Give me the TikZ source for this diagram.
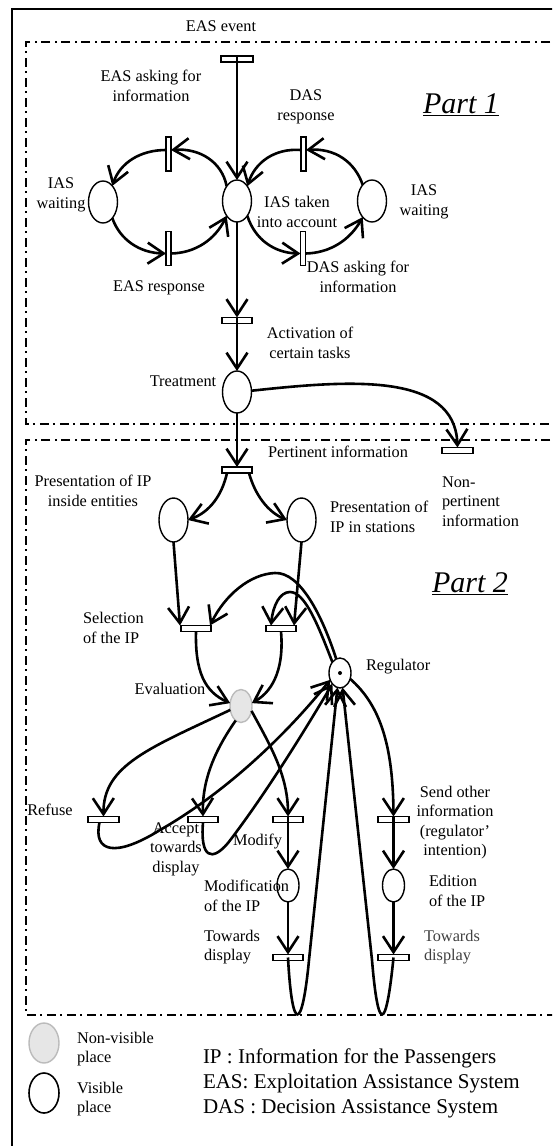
\documentclass[tikz,border=0pt]{standalone}
\usepackage{fontspec}
\setmainfont{Liberation Serif}
\usetikzlibrary{arrows.meta,shapes.geometric}
\definecolor{evalfill}{HTML}{E6E6E6}
\definecolor{evaldraw}{HTML}{BBBBBB}
\definecolor{tgray}{HTML}{404040}
\begin{document}
\begin{tikzpicture}[x=1pt,y=-1pt,
  every node/.style={inner sep=0pt, outer sep=0pt},
  lab/.style={font=\fontsize{16.3}{19.5}\selectfont, align=center},
  labl/.style={font=\fontsize{16.3}{19.5}\selectfont, align=left, anchor=west},
  parttitle/.style={font=\fontsize{30}{36}\selectfont\itshape, anchor=base},
  place/.style={ellipse, draw, line width=1.4pt, minimum width=29pt, minimum height=42pt},
  splace/.style={ellipse, draw, line width=1.4pt, minimum width=22pt, minimum height=33pt},
  hbar/.style={rectangle, draw, fill=white, line width=1.3pt, minimum width=30pt, minimum height=6pt},
  vbar/.style={rectangle, draw, fill=white, line width=1.3pt, minimum width=5pt, minimum height=34pt},
  arr/.style={line width=2.6pt, -{Straight Barb[length=16pt,width=21pt]}},
  partbox/.style={line width=1.6pt, dash pattern=on 9pt off 4pt on 2pt off 5pt},
]
\useasboundingbox (0,0) rectangle (552,1146);
\clip (0,0) rectangle (552,1146);
\fill[white] (0,0) rectangle (552,1146);
% frames
\draw[line width=2pt] (12,1160) -- (12,9) -- (570,9);
\draw[partbox] (570,42) -- (26,42) -- (26,424) -- (570,424);
\draw[partbox] (570,440) -- (26,440) -- (26,1015) -- (570,1015);

% ---------- Part 1 ----------
\node[hbar, minimum width=32pt] (Tev) at (237,59) {};
\node[place] (A) at (237,201) {};
\node[place] (L) at (103,202) {};
\node[place] (R) at (372,201) {};
\node[vbar] (B1) at (168.5,154) {};
\node[vbar] (B2) at (303.5,154) {};
\node[vbar] (B3) at (168.5,248.5) {};
\node[vbar] (B4) at (303,248.5) {};
\node[hbar] (Tact) at (237,320.5) {};
\node[place] (Treat) at (237,392) {};
\node[hbar] (Tpert) at (237,470) {};
\node[hbar, minimum width=31pt] (Tnon) at (457.5,450.5) {};

\node[lab] (tEv) at (221,26) {EAS event};
\node[lab] (tB1) at (151,86) {EAS asking for\\information};
\node[lab] (tB2) at (306,107) {DAS\\response};
\node[parttitle] (p1) at (461,113) {\underline{Part 1}};
\node[lab] (tL) at (61,195) {IAS\\waiting};
\node[lab] (tA) at (297,212) {IAS taken\\into account};
\node[lab] (tR) at (424,202) {IAS\\waiting};
\node[lab] (tB3) at (159,288) {EAS response};
\node[lab] (tB4) at (358,277) {DAS asking for\\information};
\node[lab] (tAct) at (310,343) {Activation of\\certain tasks};
\node[lab] (tTr) at (183,381) {Treatment};

\draw[arr] (Tev.north) -- (A.north);
\draw[arr] (A.125) .. controls (222,162) and (200,148) .. ([yshift=4pt]B1.east);
\draw[arr] ([yshift=4pt]B1.west) .. controls (140,150) and (120,163) .. (L.60);
\draw[arr] (L.-60) .. controls (120,240) and (140,253) .. ([yshift=-5pt]B3.west);
\draw[arr] ([yshift=-5pt]B3.east) .. controls (195,253) and (215,240) .. (A.-125);
\draw[arr] (A.-55) .. controls (255,240) and (275,253) .. ([yshift=-5pt]B4.west);
\draw[arr] ([yshift=-5pt]B4.east) .. controls (330,253) and (350,240) .. (R.-120);
\draw[arr] (R.120) .. controls (355,162) and (335,148) .. ([yshift=4pt]B2.east);
\draw[arr] ([yshift=4pt]B2.west) .. controls (275,148) and (255,162) .. (A.55);
\draw[arr] (A.south) -- (Tact.north);
\draw[arr] (Tact.north) -- (Treat.north);
\draw[arr] (Treat.south) -- (Tpert.north);
\draw[arr] (Treat.5) .. controls (350,380) and (455,372) .. (Tnon.north);

% ---------- Part 2 ----------
\node[lab] (tPert) at (338,452) {Pertinent information};
\node[labl] (tNon) at (442,501.5) {Non-\\pertinent\\information};
\node[place, minimum height=44pt] (PL) at (173.5,520) {};
\node[place, minimum height=44pt] (PR) at (301.5,520) {};
\node[lab] (tPL) at (93,491) {Presentation of IP\\inside entities};
\node[labl] (tPR) at (330,517) {Presentation of\\IP in stations};
\node[parttitle] (p2) at (470,592) {\underline{Part 2}};

\node[hbar] (S1) at (196,628.5) {};
\node[hbar] (S2) at (281,628.5) {};
\node[labl] (tS) at (83,628) {Selection\\of the IP};
\node[splace, minimum height=30pt] (Reg) at (340,673) {};
\fill (Reg.center) circle (2pt);
\node[labl] (tReg) at (366,667) {Regulator};
\node[splace, draw=evaldraw, fill=evalfill] (Eval) at (241,706) {};
\node[lab] (tEval) at (170,689) {Evaluation};

\node[hbar, minimum width=31pt] (Tref) at (103.5,819.5) {};
\node[hbar] (Tacc) at (203,819.5) {};
\node[hbar] (Tmod) at (288,819.5) {};
\node[hbar, minimum width=31pt] (Tsend) at (393.5,819.5) {};
\node[lab] (tRef) at (50,810) {Refuse};
\node[lab] (tAcc) at (176,849) {Accept\\towards\\display};
\node[lab] (tMod) at (257.5,842) {Modify};
\node[lab] (tSend) at (455,822.5) {Send other\\information\\(regulator’\\intention)};

\node[splace] (Mod) at (288,885.5) {};
\node[splace] (Edit) at (393.5,885.5) {};
\node[labl] (tModp) at (204,896) {Modification\\of the IP};
\node[labl] (tEdit) at (429,891) {Edition\\of the IP};
\node[hbar] (Ttd1) at (288,957.5) {};
\node[hbar, minimum width=31pt] (Ttd2) at (393.5,957.5) {};
\node[labl] (tTd1) at (204,947) {Towards\\display};
\node[labl, text=tgray] (tTd2) at (424,947) {Towards\\display};

\draw[arr] ([xshift=-10pt]Tpert.south) .. controls (222,495) and (210,512) .. (PL.east);
\draw[arr] ([xshift=12pt]Tpert.south) .. controls (255,495) and (268,512) .. (PR.west);
\draw[arr] (PL.south) -- ([xshift=-16pt]S1.north);
\draw[arr] (PR.south) -- ([xshift=13pt]S2.north);
\draw[arr] (Reg.105) .. controls (322,615) and (300,572) .. (275,573) .. controls (250,574) and (225,595) .. ([xshift=14pt]S1.north);
\draw[arr] (Reg.125) .. controls (318,625) and (305,592) .. (290,592) .. controls (280,592) and (273,605) .. ([xshift=-10pt]S2.north);
\draw[arr] (S1.south) .. controls (195,672) and (205,692) .. (Eval.165);
\draw[arr] (S2.south) .. controls (284,665) and (275,690) .. (Eval.15);
\draw[arr] (Eval.200) .. controls (150,748) and (103,765) .. (Tref.north);
\draw[arr] (Eval.250) .. controls (215,750) and (202,780) .. (Tacc.north);
\draw[arr] (Eval.-25) .. controls (270,745) and (288,775) .. (Tmod.north);
\draw[arr] (Reg.-30) .. controls (380,705) and (393,745) .. (Tsend.north);
\draw[arr] ([xshift=-4pt]Tref.south) .. controls (93,852) and (115,858) .. (160,830) .. controls (230,790) and (290,730) .. (Reg.215);
\draw[arr] (Tacc.south) .. controls (200,858) and (212,862) .. (228,843) .. controls (265,795) and (305,730) .. (Reg.235);
\draw[arr] (Tmod.north) -- (Mod.north);
\draw[arr] (Mod.south) -- (Ttd1.north);
\draw[arr] (Tsend.north) -- (Edit.north);
\draw[arr] (Edit.south) -- (Ttd2.north);
\draw[arr] (Ttd1.center) .. controls (292,1033) and (302,1033) .. (309,960) -- (Reg.260);
\draw[arr] (Ttd2.center) .. controls (386,1033) and (378,1033) .. (372,960) -- (Reg.-80);

% ---------- Legend ----------
\node[ellipse, draw=evaldraw, fill=evalfill, line width=1.4pt, minimum width=30pt, minimum height=40pt] (lnv) at (44,1043) {};
\node[ellipse, draw, line width=1.6pt, minimum width=30pt, minimum height=40pt] (lv) at (44,1093) {};
\node[labl] (tlnv) at (77,1049) {Non-visible\\place};
\node[labl] (tlv) at (77,1099) {Visible\\place};
\node[labl, font=\fontsize{21}{25}\selectfont] (tleg) at (203,1083) {IP : Information for the Passengers\\EAS: Exploitation Assistance System\\DAS : Decision Assistance System};
\end{tikzpicture}
\end{document}
